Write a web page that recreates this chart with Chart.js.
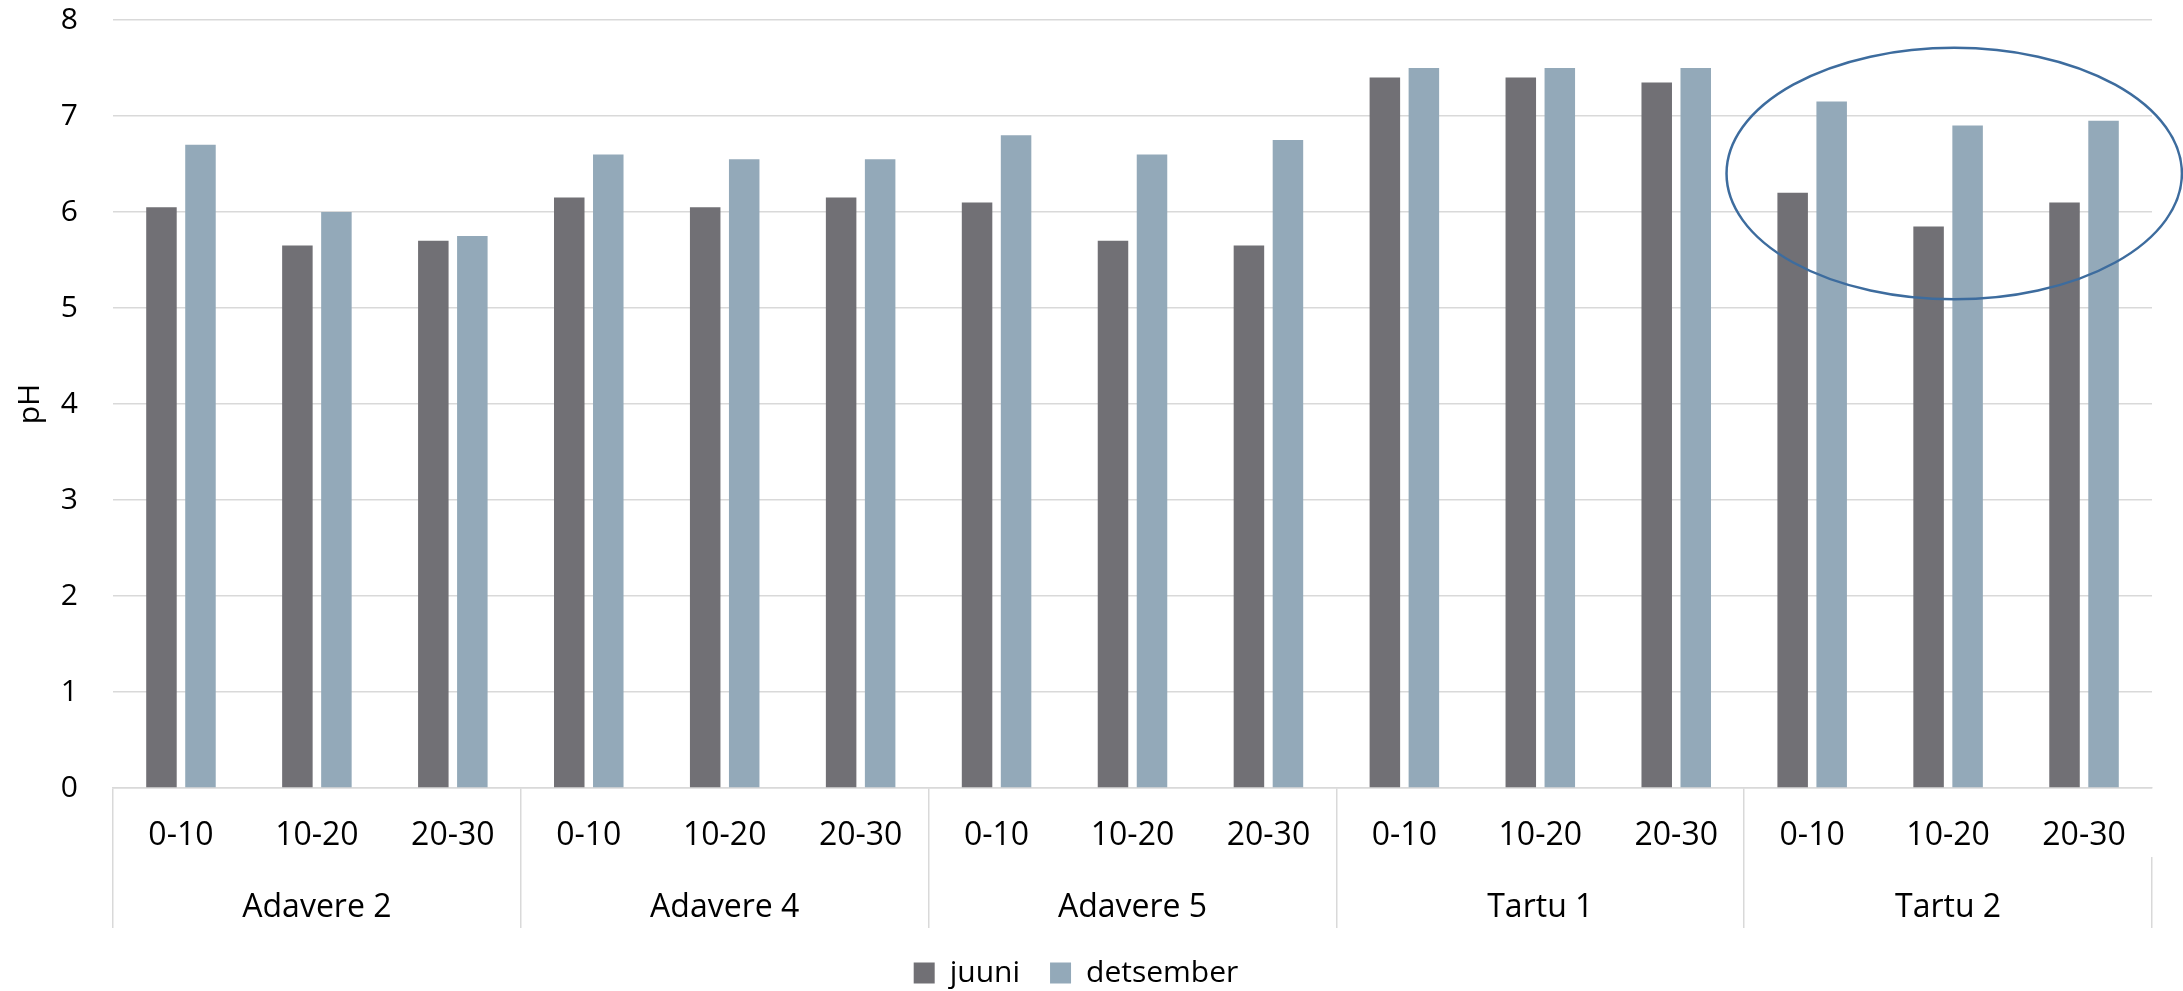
<!DOCTYPE html>
<html>
<head>
<meta charset="utf-8">
<script src="https://cdn.jsdelivr.net/npm/chart.js@4/dist/chart.umd.min.js"></script>
<style>
  html, body { margin: 0; padding: 0; background: #ffffff; }
  #wrap { width: 2183px; height: 991px; position: relative; }
</style>
</head>
<body>
<div id="wrap"><canvas id="chart"></canvas></div>
<script>
// Soil pH by sampling site and depth (cm), June vs December
const sites = ['Adavere 2', 'Adavere 4', 'Adavere 5', 'Tartu 1', 'Tartu 2'];
const depths = ['0-10', '10-20', '20-30'];
const juuni = [6.05, 5.65, 5.70, 6.15, 6.05, 6.15, 6.10, 5.70, 5.65, 7.40, 7.40, 7.35, 6.20, 5.85, 6.10];
const detsember = [6.70, 6.00, 5.75, 6.60, 6.55, 6.55, 6.80, 6.60, 6.75, 7.50, 7.50, 7.50, 7.15, 6.90, 6.95];
const yTicks = [0, 1, 2, 3, 4, 5, 6, 7, 8];

// one category per site/depth pair
const categories = sites.flatMap(() => depths);

const FAMILY = "'Open Sans', 'DejaVu Sans', sans-serif";
const FONT = { family: FAMILY, size: 30 };
const XFONT = { family: FAMILY, size: 32 };
const GRID = '#D9D9D9';

// highlight ring around the Tartu 2 group, in scale units (category index, pH)
const ring = { xFrom: 11.37, xTo: 14.72, yFrom: 5.09, yTo: 7.71, color: '#3D6C9E', width: 2.5 };

const ringPlugin = {
  id: 'ring',
  afterDatasetsDraw(chart) {
    const { ctx, scales } = chart;
    const x1 = scales.x.getPixelForValue(ring.xFrom);
    const x2 = scales.x.getPixelForValue(ring.xTo);
    const y1 = scales.y.getPixelForValue(ring.yTo);
    const y2 = scales.y.getPixelForValue(ring.yFrom);
    ctx.save();
    ctx.beginPath();
    ctx.ellipse((x1 + x2) / 2, (y1 + y2) / 2, (x2 - x1) / 2, (y2 - y1) / 2, 0, 0, Math.PI * 2);
    ctx.strokeStyle = ring.color;
    ctx.lineWidth = ring.width;
    ctx.stroke();
    ctx.restore();
  }
};

new Chart(document.getElementById('chart'), {
  type: 'bar',
  data: {
    labels: categories,
    datasets: [
      { label: 'juuni', data: juuni, backgroundColor: '#717075', borderWidth: 0,
        categoryPercentage: 0.574, barPercentage: 0.782 },
      { label: 'detsember', data: detsember, backgroundColor: '#93A9B9', borderWidth: 0,
        categoryPercentage: 0.574, barPercentage: 0.782 }
    ]
  },
  options: {
    responsive: true,
    maintainAspectRatio: false,
    animation: false,
    layout: { padding: { top: 20, right: 31, left: 0, bottom: -7 } },
    plugins: {
      tooltip: { enabled: false },
      legend: {
        position: 'bottom',
        labels: {
          font: FONT, color: '#000000',
          boxWidth: 21, boxHeight: 21, padding: 30
        }
      }
    },
    scales: {
      y: {
        min: 0, max: 8,
        afterBuildTicks(scale) { scale.ticks = yTicks.map(v => ({ value: v })); },
        afterFit(scale) {
          scale.width = 113;
          scale.paddingTop = 0;
          scale.paddingBottom = 0;
        },
        ticks: { font: FONT, color: '#000000', padding: 35 },
        grid: { color: GRID, lineWidth: 1.5, drawTicks: false },
        border: { display: false },
        title: { display: true, text: 'pH', font: FONT, color: '#000000', padding: { top: 12, bottom: 0 } }
      },
      x: {
        position: 'bottom',
        weight: 0,
        offset: true,
        afterFit(scale) { scale.height = 69; },
        ticks: { font: XFONT, color: '#000000', padding: -40, maxRotation: 0, autoSkip: false },
        grid: {
          offset: true,
          drawOnChartArea: false,
          drawTicks: true,
          tickLength: 69,
          lineWidth: 1.5,
          color: ctx => (ctx.index % depths.length === 0 ? GRID : 'rgba(0,0,0,0)')
        },
        border: { display: true, color: GRID, width: 1.5 }
      },
      site: {
        type: 'category',
        labels: sites,
        position: 'bottom',
        weight: 1,
        offset: true,
        afterFit(scale) { scale.height = 71; },
        ticks: { font: XFONT, color: '#000000', padding: -39, maxRotation: 0, autoSkip: false },
        grid: {
          offset: true,
          drawOnChartArea: false,
          drawTicks: true,
          tickLength: 71,
          lineWidth: 1.5,
          color: GRID
        },
        border: { display: false }
      }
    }
  },
  plugins: [ringPlugin]
});
</script>
</body>
</html>
